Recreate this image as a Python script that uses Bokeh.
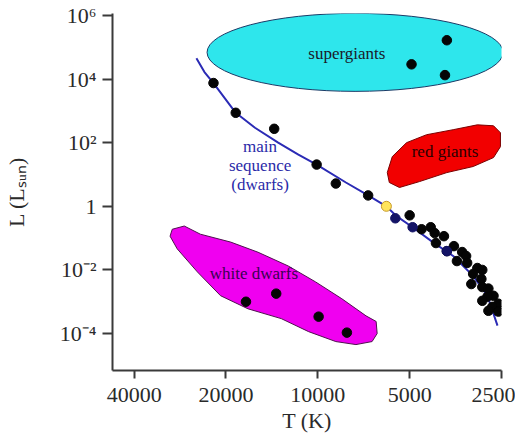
import math
from bokeh.plotting import figure
from bokeh.models import Range1d, FixedTicker, PrintfTickFormatter, CustomJSTickFormatter
from bokeh.core.properties import value
from bokeh.embed import file_html
from bokeh.resources import INLINE

# ---------------- data ----------------
x_ticks = [40000, 20000, 10000, 5000, 2500]
y_ticks = [1e6, 1e4, 1e2, 1, 1e-2, 1e-4]
y_tick_labels = ["10\u2076", "10\u2074", "10\u00b2", "1", "10\u207b\u00b2", "10\u207b\u2074"]

x_start, x_end = 47100, 2500
y_min, y_max = 6.9e-6, 1.15e6

# main-sequence curve (T in K, L in Lsun)
ms_line_T = [25000, 23530, 21980, 18580, 16070, 13490, 11580, 10090, 8090, 6840,
             5960, 5520, 4890, 4200, 3600, 3097, 2780, 2577]
ms_line_L = [45300, 16600, 7500, 870, 295, 100, 42, 20.5, 5.6, 2.2,
             1.0, 0.49, 0.22, 0.075, 0.0274, 0.0065, 0.00154, 1.78e-4]

# main-sequence stars
ms_T = [21980, 18580, 13900, 10090, 8730, 6840, 5000, 4570, 4265, 4140, 3860, 4100,
        3776, 3580, 3365, 3265, 3500, 3240, 3000, 2890, 3097, 3140, 2910, 2890,
        2760, 2655, 2780, 2890, 2560, 2680, 2560, 2760]
ms_L = [7500, 870, 273, 20.5, 5.2, 2.2, 0.52, 0.19, 0.22, 0.144, 0.115, 0.070,
        0.039, 0.056, 0.0365, 0.0274, 0.019, 0.0166, 0.0115, 0.010, 0.0075, 0.0036, 0.0052, 0.0029,
        0.0026, 0.00154, 0.00144, 0.00107, 8.7e-4, 6.9e-4, 4.9e-4, 5.2e-4]
ms_blue_T = [5570, 4890, 3776]
ms_blue_L = [0.42, 0.22, 0.039]

# supergiants
sg_T = [3776, 4930, 3830]
sg_L = [1.66e5, 2.9e4, 1.33e4]
sg_center_T, sg_center_L = 7550, 6.9e4

# white dwarfs
wd_T = [17200, 13690, 9940, 8030]
wd_L = [1.0e-3, 1.8e-3, 3.4e-4, 1.07e-4]

# Sun
sun_T, sun_L = [5960], [1.0]

# region outlines
rg_T = [5920, 5700, 5120, 4400, 3600, 3000, 2655, 2520, 2520, 2655, 3097, 3776, 4640, 5400, 5830]
rg_L = [11.5, 36.5, 100, 178, 256, 364, 340, 205, 75, 34, 17.8, 11.5, 6.0, 3.9, 5.6]

wdr_T = [30000, 27400, 24270, 19300, 15700, 12500, 10170, 8340, 6950, 6440, 6390, 6640,
         7500, 8730, 10720, 13180, 16940, 20840, 24830, 28900, 30500]
wdr_L = [0.19, 0.24, 0.133, 0.075, 0.036, 0.0133, 0.0042, 0.00124, 3.6e-4, 2.4e-4, 1.0e-4, 5.6e-5,
         4.5e-5, 5.6e-5, 1.15e-4, 2.95e-4, 6.0e-4, 1.55e-3, 8.7e-3, 0.046, 0.115]

# region labels
lab_T = [8030, 3830, 15460, 16200]
lab_L = [6.5e4, 52, 19, 0.0075]
lab_text = ["supergiants", "red giants", "main\nsequence\n(dwarfs)", "white dwarfs"]
lab_color = ["#1a1a2a", "#2a0000", "#2a2aa8", "#3a0050"]

x_title = "T (K)"
y_title = "L (L\u209b\u1d64\u2099)"

# ---------------- figure ----------------
SERIF = "Liberation Serif"
p = figure(width=515, height=440, x_axis_type="log", y_axis_type="log",
           x_range=Range1d(x_start, x_end), y_range=Range1d(y_min, y_max),
           output_backend="svg", toolbar_location=None,
           min_border_left=112, min_border_right=14, min_border_top=13, min_border_bottom=70)
p.outline_line_color = None
p.grid.visible = False
p.background_fill_color = "white"
p.border_fill_color = "white"

# regions
p.ellipse(x=[sg_center_T], y=[sg_center_L], width=296, height=78,
          width_units="screen", height_units="screen",
          fill_color="#2ee6ec", line_color="#1c3a66", line_width=1)
p.patch(rg_T, rg_L, fill_color="#f20000", line_color="#7a0000", line_width=1)
p.patch(wdr_T, wdr_L, fill_color="#f000f0", line_color="#50104f", line_width=1)

# main sequence curve
p.line(ms_line_T, ms_line_L, line_color="#2b2bb5", line_width=2)

# stars
p.scatter(ms_T, ms_L, size=9.5, fill_color="#050505", line_color="#050505")
p.scatter(ms_blue_T, ms_blue_L, size=9.5, fill_color="#141466", line_color="#141466")
p.scatter(sg_T, sg_L, size=9.5, fill_color="#050505", line_color="#050505")
p.scatter(wd_T, wd_L, size=9.5, fill_color="#050505", line_color="#050505")
p.scatter(sun_T, sun_L, size=10, fill_color="#ffe45c", line_color="#c89a2a", line_width=1)

# region labels
p.text(x=lab_T, y=lab_L, text=lab_text, text_color=lab_color,
       text_font=value(SERIF), text_font_size="17px",
       text_align="center", text_baseline="middle", text_line_height=1.0)

# axes
for ax in (p.xaxis, p.yaxis):
    ax.axis_line_color = "#3a3a3a"
    ax.axis_line_width = 2
    ax.major_tick_line_color = "#3a3a3a"
    ax.major_tick_line_width = 2
    ax.major_tick_in = 0
    ax.minor_tick_line_color = None
    ax.axis_label_text_font = SERIF
    ax.axis_label_text_font_size = "22px"
    ax.axis_label_text_font_style = "normal"
    ax.axis_label_text_color = "#2a2a2a"
    ax.major_label_text_font = SERIF
    ax.major_label_text_font_size = "22px"
    ax.major_label_text_color = "#2a2a2a"

p.xaxis.ticker = FixedTicker(ticks=x_ticks)
p.xaxis.formatter = PrintfTickFormatter(format="%d")
p.xaxis.major_tick_out = 8
p.xaxis.major_label_standoff = 9
p.xaxis.axis_label = x_title
p.xaxis.axis_label_standoff = 3
p.xaxis.axis_label_text_align = "left"

p.yaxis.ticker = FixedTicker(ticks=y_ticks)
p.yaxis.formatter = CustomJSTickFormatter(
    args=dict(exps=[round(math.log10(v)) for v in y_ticks], labels=y_tick_labels),
    code="const e = Math.round(Math.log10(tick)); const i = exps.indexOf(e); return i >= 0 ? labels[i] : '';")
p.yaxis.major_tick_out = 10
p.yaxis.major_label_standoff = 6
p.yaxis.axis_label = y_title
p.yaxis.axis_label_standoff = 28

open("out.html", "w").write(file_html(p, INLINE))
